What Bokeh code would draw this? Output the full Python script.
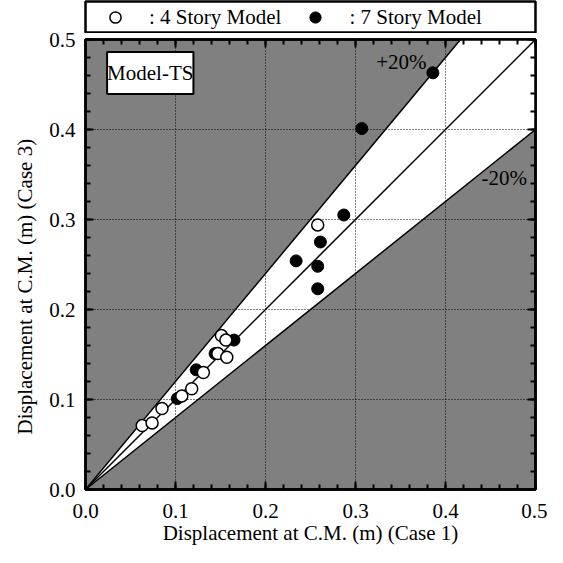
from bokeh.plotting import figure
from bokeh.models import (Label, Legend, LegendItem, LinearAxis, Range1d, Title,
                          SingleIntervalTicker, NumeralTickFormatter)
from bokeh.layouts import column
from bokeh.embed import file_html
from bokeh.resources import INLINE

FONT = "Liberation Serif"
FS = "21px"

# ---- data ----
x4 = [0.063, 0.074, 0.085, 0.107, 0.118, 0.131, 0.147, 0.157, 0.151, 0.156, 0.258]
y4 = [0.071, 0.074, 0.090, 0.104, 0.112, 0.130, 0.151, 0.147, 0.171, 0.166, 0.294]
x7 = [0.102, 0.123, 0.144, 0.165, 0.234, 0.258, 0.258, 0.261, 0.287, 0.307, 0.386]
y7 = [0.101, 0.133, 0.151, 0.166, 0.254, 0.248, 0.223, 0.275, 0.305, 0.401, 0.463]
ratios = [1.2, 1.0, 0.8]
ratio_labels = ["+20%", "", "-20%"]
legend_labels = [": 4 Story Model", ": 7 Story Model"]
panel_label = "Model-TS"
x_title = "Displacement at C.M. (m) (Case 1)"
y_title = "Displacement at C.M. (m)  (Case 3)"
lim = 0.5
tick_step = 0.1
tick_values = [0.0, 0.1, 0.2, 0.3, 0.4, 0.5]

GREY = "#808080"

# ---- main plot ----
p = figure(width=547, height=522,
           x_range=Range1d(0, lim), y_range=Range1d(0, lim),
           output_backend="svg", toolbar_location=None,
           min_border_left=82, min_border_right=12,
           min_border_top=14, min_border_bottom=55,
           background_fill_color=GREY, border_fill_color="white",
           border_fill_alpha=0,
           outline_line_color="black", outline_line_width=2.5)

ticker = SingleIntervalTicker(interval=tick_step, num_minor_ticks=5)

# white wedge between the +20% and -20% lines
hi, lo = max(ratios), min(ratios)
p.patch([0, lim / hi, lim, lim], [0, lim, lim, lo * lim],
        fill_color="white", line_color=None, level="image")

# dotted grid
for g in (p.xgrid, p.ygrid):
    g.ticker = ticker
    g.grid_line_color = "black"
    g.grid_line_dash = "1 2"
    g.grid_line_width = 1
    g.level = "underlay"

# reference lines
for r in ratios:
    ex = min(lim, lim / r)
    p.line([0, ex], [0, r * ex], line_color="black", line_width=1.5)

# points
p.scatter(x7, y7, size=12, marker="circle", fill_color="black", line_color="black", line_width=1)
p.scatter(x4, y4, size=12, marker="circle", fill_color="white", line_color="black", line_width=1.5)

# axes
def style_axis(ax, labels=True):
    ax.ticker = ticker
    ax.axis_line_width = 2.5
    ax.axis_line_color = "black"
    ax.major_tick_in = 8
    ax.major_tick_out = 0
    ax.minor_tick_in = 5
    ax.minor_tick_out = 0
    ax.major_tick_line_width = 2
    ax.minor_tick_line_width = 2
    ax.major_tick_line_color = "black"
    ax.minor_tick_line_color = "black"
    ax.major_label_text_font = FONT
    if labels:
        ax.formatter = NumeralTickFormatter(format="0.0")
        ax.major_label_text_font_size = FS
        ax.major_label_text_color = "black"
        ax.axis_label_text_font = FONT
        ax.axis_label_text_font_size = FS
        ax.axis_label_text_font_style = "normal"
        ax.axis_label_text_color = "black"
    else:
        ax.major_label_overrides = {v: "" for v in tick_values}
        ax.major_label_text_font_size = "1px"
        ax.major_label_standoff = 0

style_axis(p.xaxis[0])
style_axis(p.yaxis[0])
p.xaxis[0].axis_label = x_title
p.xaxis[0].major_label_standoff = 14
p.xaxis[0].axis_label_standoff = 0
p.yaxis[0].major_label_standoff = 10

ra = LinearAxis()
ta = LinearAxis()
style_axis(ra, labels=False)
style_axis(ta, labels=False)
p.add_layout(ra, "right")
p.add_layout(ta, "above")

# y-axis title, a little below centre like in the reference
p.add_layout(Title(text=y_title, align="left", offset=55, standoff=20,
                   text_font=FONT, text_font_size=FS, text_font_style="normal",
                   text_color="black"), "left")

# ratio labels
p.add_layout(Label(x=0.379, y=0.475, text=ratio_labels[0], text_align="right",
                   text_baseline="middle", text_font=FONT, text_font_size=FS,
                   text_color="black"))
p.add_layout(Label(x=0.44, y=0.346, text=ratio_labels[2], text_align="left",
                   text_baseline="middle", text_font=FONT, text_font_size=FS,
                   text_color="black"))

# panel label
p.add_layout(Label(x=0.024, y=0.486, text=panel_label, anchor="top_left",
                   text_font=FONT, text_font_size=FS, text_color="black",
                   padding=(0, 9), background_fill_color="white",
                   border_line_color="black", border_line_width=2))

# ---- legend strip ----
leg = figure(width=547, height=33, x_range=Range1d(0, 1), y_range=Range1d(0, 1),
             output_backend="svg", toolbar_location=None,
             x_axis_type=None, y_axis_type=None,
             min_border_left=82, min_border_right=12,
             min_border_top=1, min_border_bottom=0,
             outline_line_color="black", outline_line_width=2.5,
             background_fill_color="white", border_fill_color="white",
             margin=(0, 0, -8, 0))
nan = float("nan")
r_open = leg.scatter(x=[nan], y=[nan], size=12, marker="circle", fill_color="white",
                     line_color="black", line_width=1.5)
r_fill = leg.scatter(x=[nan], y=[nan], size=12, marker="circle", fill_color="black",
                     line_color="black")
legend = Legend(items=[LegendItem(label=legend_labels[0], renderers=[r_open]),
                       LegendItem(label=legend_labels[1], renderers=[r_fill])],
                orientation="horizontal", location=(16, 2),
                glyph_width=28, glyph_height=28, label_standoff=20, spacing=20,
                padding=0, margin=0, border_line_alpha=0, background_fill_alpha=0,
                label_text_font=FONT, label_text_font_size=FS,
                label_text_color="black")
leg.add_layout(legend)

layout = column(leg, p)
open("out.html", "w").write(file_html(layout, INLINE))
